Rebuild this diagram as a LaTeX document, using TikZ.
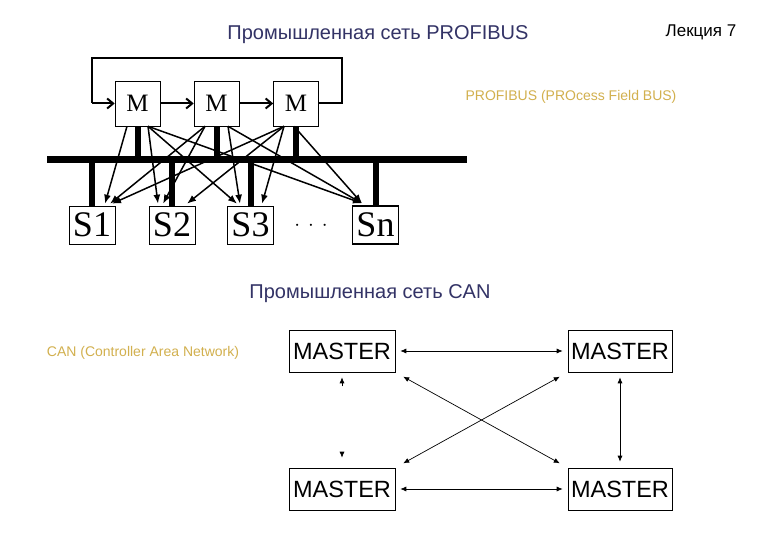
\documentclass[tikz,border=0pt]{standalone}
\usepackage{fontspec}
\setmainfont{Liberation Serif}
\newfontfamily\arialf{Liberation Sans}
\usetikzlibrary{arrows.meta,calc}
\definecolor{navy}{HTML}{333366}
\definecolor{gold}{HTML}{D2B04E}
\begin{document}
\begin{tikzpicture}[x=1pt,y=-1pt,
  mbox/.style={draw,line width=0.6pt,minimum width=45pt,minimum height=45pt,inner sep=0pt,font=\fontsize{25}{25}\selectfont},
  sbox/.style={draw,line width=0.6pt,minimum width=46pt,minimum height=38pt,inner sep=0pt,font=\fontsize{36}{36}\selectfont},
  cbox/.style={draw,line width=0.6pt,minimum height=42pt,inner sep=0pt,font=\arialf\fontsize{23.5}{23.5}\selectfont},
  loop/.style={line width=2pt,-{Straight Barb[length=6pt,width=10pt]}},
  fan/.style={line width=1.5pt,-{Latex[length=9pt,width=7pt]}},
  bus/.style={line width=7pt},
  stub/.style={line width=6pt},
  can/.style={line width=0.7pt,{Latex[length=6pt,width=5pt]}-{Latex[length=6pt,width=5pt]}},
  canhead/.style={line width=0.7pt,-{Latex[length=6pt,width=5pt]}},
  title/.style={font=\arialf\fontsize{20}{20}\selectfont,text=navy},
  note/.style={font=\arialf\fontsize{14}{14}\selectfont,text=gold}]
\useasboundingbox (0,0) rectangle (780,540);
\fill[white] (0,0) rectangle (780,540);

% texts
\node[title] (t1) at (378,35) {Промышленная сеть PROFIBUS};
\node[font=\arialf\fontsize{17}{17}\selectfont] (lec) at (701,32) {Лекция 7};
\node[note] (n1) at (571,97) {PROFIBUS (PROcess Field BUS)};
\node[title] (t2) at (370,294) {Промышленная сеть CAN};
\node[note] (n2) at (143,353) {CAN (Controller Area Network)};

% PROFIBUS
\node[mbox] (M1) at (137.5,103.5) {M};
\node[mbox] (M2) at (216.5,103.5) {M};
\node[mbox] (M3) at (296,103.5) {M};
\node[sbox] (S1) at (92,225) {S1};
\node[sbox] (S2) at (172,225) {S2};
\node[sbox] (S3) at (250.5,225) {S3};
\node[sbox,line width=1.4pt] (Sn) at (375.5,225) {Sn};
\node[font=\fontsize{22}{22}\selectfont] (dots) at (311,226) {$\cdot\,\cdot\,\cdot$};

\coordinate (busL) at (47,160);
\coordinate (busR) at (467,160);
\draw[bus] (busL) -- (busR);
\foreach \n in {M1,M2,M3}{\draw[stub] (\n.south) -- (\n.south |- busL);}
\foreach \n in {S1,S2,S3,Sn}{\draw[stub] (\n.north) -- (\n.north |- busL);}

\draw[line width=2pt] (M3.east) -- (342,103.5) -- (342,58) -- (92,58) -- (92,103.5);
\draw[loop] (92,103.5) -- (M1.west);
\draw[loop] (M1.east) -- (M2.west);
\draw[loop] (M2.east) -- (M3.west);

\coordinate (a) at ($(M1.south)+(-10.5,0)$);
\coordinate (b) at ($(M1.south)+(10.5,0)$);
\coordinate (c) at ($(M2.south)+(-11.5,0)$);
\coordinate (d) at ($(M2.south)+(11.5,0)$);
\coordinate (e) at ($(M3.south)+(-12,0)$);
\coordinate (f) at ($(M3.south)+(-2,0)$);

\draw[fan] (a) -- ($(S1.north)+(13,-2)$);
\draw[fan] (b) -- ($(S2.north)+(-14,-2)$);
\draw[fan] (b) -- ($(S3.north)+(-13.5,-2)$);
\draw[fan] (b) -- ($(Sn.north)+(-13.5,-2)$);
\draw[fan] (c) -- ($(S1.north)+(18,-2)$);
\draw[fan] (c) -- ($(S2.north)+(-9,-2)$);
\draw[fan] (d) -- ($(S3.north)+(-10.5,-2)$);
\draw[fan] (d) -- ($(Sn.north)+(-13.5,-2)$);
\draw[fan] (e) -- ($(S1.north)+(20,-2)$);
\draw[fan] (e) -- ($(S2.north)+(15,-2)$);
\draw[fan] (e) -- ($(S3.north)+(11.5,-2)$);
\draw[fan] (f) -- ($(Sn.north)+(-13.5,-2)$);

% CAN
\node[cbox,minimum width=106pt] (TL) at (342,351) {MASTER};
\node[cbox,minimum width=104pt] (TR) at (620,351) {MASTER};
\node[cbox,minimum width=106pt] (BL) at (342,489) {MASTER};
\node[cbox,minimum width=104pt] (BR) at (620,489) {MASTER};

\draw[can,shorten <=5pt,shorten >=5pt] (TL.east) -- (TR.west);
\draw[can,shorten <=5pt,shorten >=5pt] (BL.east) -- (BR.west);
\draw[can,shorten <=5pt,shorten >=6pt] (TR.south) -- (BR.north);
\draw[can,shorten <=9pt,shorten >=9pt] (TL.south east) -- (BR.north west);
\draw[can,shorten <=9pt,shorten >=9pt] (BL.north east) -- (TR.south west);
\draw[canhead] ($(TL.south)+(0,14)$) -- ($(TL.south)+(0,5)$);
\draw[canhead] ($(BL.north)+(0,-14)$) -- ($(BL.north)+(0,-10)$);
\end{tikzpicture}
\end{document}
